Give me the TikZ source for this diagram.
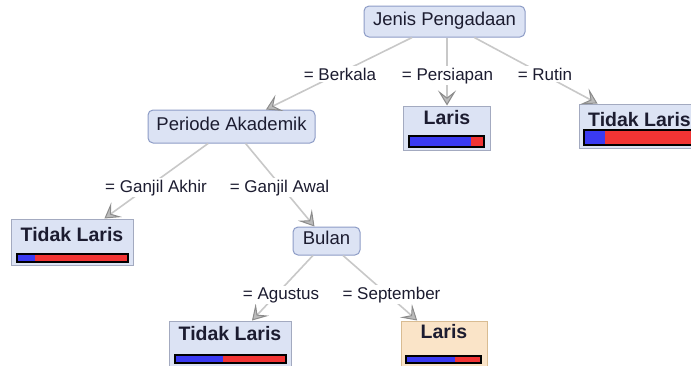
\documentclass[tikz,border=0pt]{standalone}
\usepackage{fontspec}
\setmainfont{Liberation Sans}
\usetikzlibrary{arrows.meta}
\definecolor{boxfill}{HTML}{DCE3F4}
\definecolor{boxdraw}{HTML}{8D9CC6}
\definecolor{leafdraw}{HTML}{A3AAC0}
\definecolor{orfill}{HTML}{FAE4C8}
\definecolor{ordraw}{HTML}{D9BC92}
\definecolor{edgecol}{HTML}{C8C8C8}
\definecolor{arrowfill}{HTML}{BBBBBB}
\definecolor{arrowdraw}{HTML}{8C8C8C}
\definecolor{txt}{HTML}{1C1C30}
\definecolor{barblue}{HTML}{3A3AF2}
\definecolor{barred}{HTML}{F23434}
\newcommand\leafbar[5]{%
  \fill[barblue] (#1,#4) rectangle (#3,#5);
  \fill[barred] (#3,#4) rectangle (#2,#5);
  \draw[line width=1.3pt,black] (#1,#4) rectangle (#2,#5);}
\begin{document}
\begin{tikzpicture}[x=1pt,y=-1pt,
  inner/.style={draw=boxdraw, fill=boxfill, line width=1pt, rounded corners=5pt,
    inner sep=0pt, text height=0.72em, text depth=0pt,
    font=\fontsize{18.5}{20}\selectfont, text=txt},
  leaf/.style={draw=leafdraw, fill=boxfill, line width=1pt, inner sep=0pt},
  leafor/.style={draw=ordraw, fill=orfill, line width=1pt, inner sep=0pt},
  leaftext/.style={anchor=base, font=\fontsize{19.5}{22}\selectfont\bfseries, text=txt, inner sep=0pt},
  lbl/.style={anchor=base, fill=white, inner sep=1.5pt, font=\fontsize{17}{19}\selectfont, text=txt},
  edge/.style={draw=edgecol, line width=1.6pt},
  arr/.style={edge, -{Stealth[length=15pt,width=18pt,inset=7pt,fill=arrowfill,color=arrowdraw,line width=1pt]}}
]
\useasboundingbox (0,0) rectangle (691,365);

% internal nodes
\node[inner, minimum width=161pt, minimum height=31pt] (jp) at (444.5,21.5) {Jenis Pengadaan};
\node[inner, minimum width=167pt, minimum height=33pt] (pa) at (231.5,126.5) {Periode Akademik};
\node[inner, minimum width=67pt, minimum height=28pt] (bu) at (326.5,241) {Bulan};

% leaves
\node[leaf, minimum width=87pt, minimum height=44pt] (l1) at (447,128) {};
\node[leaf, minimum width=121pt, minimum height=44pt] (l2) at (639.5,126) {};
\node[leaf, minimum width=122pt, minimum height=46pt] (l3) at (72,242) {};
\node[leaf, minimum width=122pt, minimum height=46pt] (l4) at (230,344) {};
\node[leafor, minimum width=86pt, minimum height=46pt] (l5) at (444,344) {};

\node[leaftext] (l1t) at (447,124) {Laris};
\node[leaftext] (l2t) at (639.5,126) {Tidak Laris};
\node[leaftext] (l3t) at (72,241) {Tidak Laris};
\node[leaftext] (l4t) at (230,340) {Tidak Laris};
\node[leaftext] (l5t) at (444,338) {Laris};

\leafbar{409}{484}{471}{136}{147}
\leafbar{584}{697}{605}{130}{145}
\leafbar{17}{128}{35}{254}{262}
\leafbar{175}{286}{223}{355}{363}
\leafbar{406}{481}{455}{356}{363}

% edges
\draw[arr] (jp) -- (pa);
\draw[arr] (l1.north |- jp.south) -- (l1.north);
\draw[arr] (jp) -- (l2);
\draw[arr] (pa) -- (l3);
\draw[arr] (pa) -- (bu);
\draw[arr] (bu) -- (l4);
\draw[arr] (bu) -- (l5);

% edge labels
\node[lbl] (e1) at (340,80) {= Berkala};
\node[lbl] (e2) at (447.5,80) {= Persiapan};
\node[lbl] (e3) at (545,80) {= Rutin};
\node[lbl] (e4) at (156,192) {= Ganjil Akhir};
\node[lbl] (e5) at (279.5,192) {= Ganjil Awal};
\node[lbl] (e6) at (281,299) {= Agustus};
\node[lbl] (e7) at (391.5,299) {= September};
\end{tikzpicture}
\end{document}
